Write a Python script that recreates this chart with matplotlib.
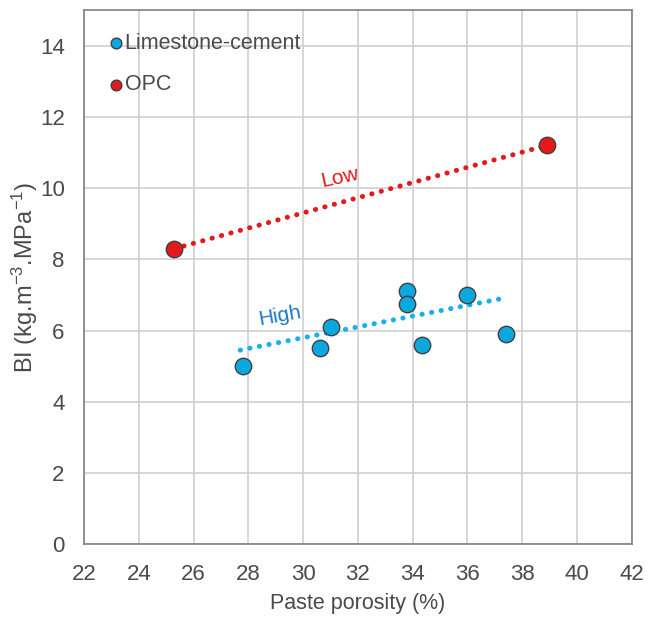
import matplotlib
matplotlib.use("Agg")
import matplotlib.pyplot as plt

plt.rcParams['font.family'] = ['Liberation Sans', 'DejaVu Sans']
plt.rcParams['mathtext.fontset'] = 'custom'
plt.rcParams['mathtext.rm'] = 'Liberation Sans'
plt.rcParams['mathtext.default'] = 'regular'

# data
lc_porosity = [27.8, 30.6, 31.0, 33.8, 33.8, 34.35, 36.0, 37.4]
lc_bi = [5.0, 5.5, 6.1, 7.1, 6.75, 5.6, 7.0, 5.9]
opc_porosity = [25.3, 38.9]
opc_bi = [8.3, 11.2]
# trend line ends as drawn in the chart
lc_trend_x = [27.7, 37.4]
lc_trend_y = [5.45, 6.92]
opc_trend_x = [25.3, 38.9]
opc_trend_y = [8.3, 11.2]
x_ticks = list(range(22, 43, 2))
y_ticks = list(range(0, 15, 2))

blue = '#0ba8e0'
red = '#e3191b'
txt = '#4a4a4a'

fig = plt.figure(figsize=(6.52, 6.22), dpi=100)
ax = fig.add_axes([0.129, 0.125, 0.84, 0.859])

dots = (0, (0.05, 1.9))
ax.plot(lc_trend_x, lc_trend_y, color='#18b0ea', lw=3.6, ls=dots, dash_capstyle='round', zorder=2)
ax.plot(opc_trend_x, opc_trend_y, color=red, lw=3.6, ls=dots, dash_capstyle='round', zorder=2)

ax.scatter(lc_porosity, lc_bi, s=140, color=blue, edgecolor='#404040', lw=1, zorder=3,
           label='Limestone-cement')
ax.scatter(opc_porosity, opc_bi, s=140, color=red, edgecolor='#404040', lw=1, zorder=3,
           label='OPC')

ax.text(31.35, 10.3, 'Low', color=red, fontsize=15, rotation=12, ha='center', va='center')
ax.text(29.15, 6.4, 'High', color='#1a78c8', fontsize=15, rotation=10, ha='center', va='center')

ax.set_xlim(22, 42)
ax.set_ylim(0, 15)
ax.set_xticks(x_ticks)
ax.set_yticks(y_ticks)
ax.tick_params(labelsize=16, colors=txt, length=0)
ax.tick_params(axis='x', pad=14)
ax.tick_params(axis='y', pad=14)
ax.grid(True, color='#d0d0d0', lw=1.2)
ax.set_axisbelow(True)
for s in ax.spines.values():
    s.set_color('#808080')
    s.set_linewidth(1.2)

ax.set_xlabel('Paste porosity (%)', fontsize=15.5, color=txt, labelpad=6)
ax.set_ylabel('BI (kg.m$^{-3}$.MPa$^{-1}$)', fontsize=17, color=txt, labelpad=0)

ax.legend(loc='upper left', bbox_to_anchor=(0.015, 0.985), frameon=False, fontsize=15.5,
          handletextpad=0.0, handlelength=0.8, markerscale=0.65, labelspacing=0.95,
          borderaxespad=0.3, labelcolor=txt)

fig.savefig('out.png', dpi=100)
